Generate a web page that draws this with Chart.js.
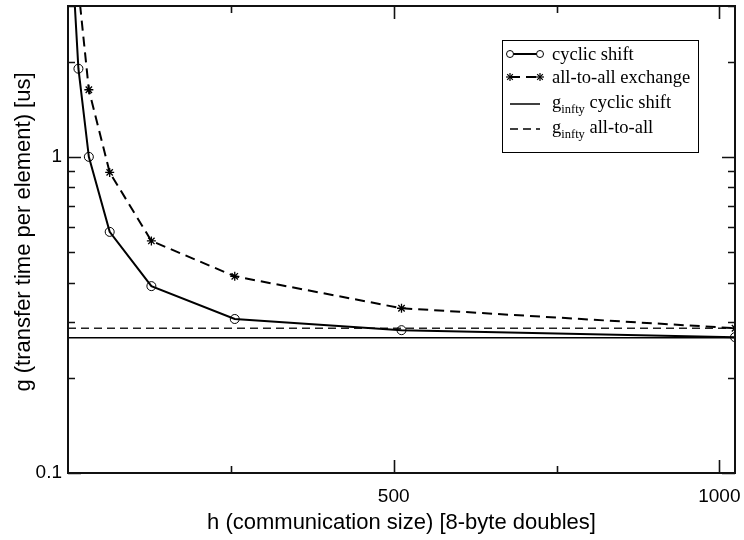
<!DOCTYPE html>
<html>
<head>
<meta charset="utf-8">
<script src="https://cdn.jsdelivr.net/npm/chart.js@4/dist/chart.umd.min.js"></script>
<style>
html,body{margin:0;padding:0;background:#fff;}
#c{display:block;}
</style>
</head>
<body>
<canvas id="c" width="744" height="540"></canvas>
<script>
// ---- data ----
const hValues = [8, 16, 32, 64, 128, 256, 512, 1024];
const cyclicShift = [3.7, 1.90, 1.00, 0.579, 0.390, 0.307, 0.283, 0.269];
const allToAllH = [16, 32, 64, 128, 256, 512, 1024];
const allToAll = [3.4, 1.63, 0.893, 0.542, 0.419, 0.332, 0.287];
const gInftyCyclic = 0.268;
const gInftyAllToAll = 0.287;
const xRange = [0, 1024];
const yRange = [0.1, 3];
const xTickValues = [250, 500, 750, 1000];
const xTickLabels = {500: '500', 1000: '1000'};
const yTickValues = [0.1, 0.2, 0.3, 0.4, 0.5, 0.6, 0.7, 0.8, 0.9, 1, 2, 3];
const yTickLabels = {0.1: '0.1', 1: '1'};
const xMajor = [500, 1000];
const yMajor = [0.1, 1];
const legendLabels = [
  {main: 'cyclic shift'},
  {main: 'all-to-all exchange'},
  {pre: 'g', sub: 'infty', main: ' cyclic shift'},
  {pre: 'g', sub: 'infty', main: ' all-to-all'}
];
const xTitle = 'h (communication size) [8-byte doubles]';
const yTitle = 'g (transfer time per element) [us]';

const toXY = (xs, ys) => xs.map((x, i) => ({x: x, y: ys[i]}));

const SERIF = '"Liberation Serif", "Times New Roman", serif';
const SANS = '"Liberation Sans", Arial, sans-serif';

const framePlugin = {
  id: 'frame',
  afterDraw(chart) {
    const ctx = chart.ctx;
    const a = chart.chartArea;
    const xs = chart.scales.x, ys = chart.scales.y;
    ctx.save();
    ctx.strokeStyle = '#111';
    ctx.lineWidth = 1.6;
    // ticks (inward, mirrored)
    xTickValues.forEach(v => {
      const px = Math.round(xs.getPixelForValue(v)) + 0.5;
      const len = xMajor.includes(v) ? 13 : 7;
      ctx.beginPath();
      ctx.moveTo(px, a.bottom); ctx.lineTo(px, a.bottom - len);
      ctx.moveTo(px, a.top); ctx.lineTo(px, a.top + len);
      ctx.stroke();
    });
    yTickValues.forEach(v => {
      const py = Math.round(ys.getPixelForValue(v)) + 0.5;
      const len = yMajor.includes(v) ? 13 : 7;
      ctx.beginPath();
      ctx.moveTo(a.left, py); ctx.lineTo(a.left + len, py);
      ctx.moveTo(a.right, py); ctx.lineTo(a.right - len, py);
      ctx.stroke();
    });
    ctx.lineWidth = 2;
    ctx.strokeRect(a.left, a.top, a.right - a.left, a.bottom - a.top);

    // y title
    ctx.fillStyle = '#000';
    ctx.font = '22px ' + SANS;
    ctx.textAlign = 'center';
    ctx.textBaseline = 'middle';
    ctx.save();
    ctx.translate(24, 232);
    ctx.rotate(-Math.PI / 2);
    ctx.fillText(yTitle, 0, 0);
    ctx.restore();

    // legend
    const lx = 502.5, ly = 40.5, lw = 196, lh = 112;
    ctx.lineWidth = 1;
    ctx.strokeStyle = '#000';
    ctx.fillStyle = '#fff';
    ctx.fillRect(lx, ly, lw, lh);
    ctx.strokeRect(lx, ly, lw, lh);
    const rows = [54, 77, 102, 127];
    const ds = chart.data.datasets;
    rows.forEach((ry, i) => {
      const d = ds[i];
      const y = ry + (i >= 2 ? 2 : 0);
      ctx.save();
      ctx.strokeStyle = '#000';
      ctx.lineWidth = d.borderWidth;
      ctx.setLineDash(d.borderDash || []);
      ctx.beginPath();
      ctx.moveTo(510, y); ctx.lineTo(540, y);
      ctx.stroke();
      ctx.setLineDash([]);
      if (d.pointRadius > 0) {
        [510, 540].forEach(px => {
          ctx.lineWidth = 1;
          if (d.pointStyle === 'circle') {
            ctx.fillStyle = '#fff';
            ctx.beginPath(); ctx.arc(px, y, 3.5, 0, Math.PI * 2); ctx.fill(); ctx.stroke();
          } else {
            ctx.lineWidth = 1.2;
            for (let k = 0; k < 4; k++) {
              const ang = k * Math.PI / 4;
              ctx.beginPath();
              ctx.moveTo(px - 4 * Math.cos(ang), y - 4 * Math.sin(ang));
              ctx.lineTo(px + 4 * Math.cos(ang), y + 4 * Math.sin(ang));
              ctx.stroke();
            }
          }
        });
      }
      ctx.restore();
      const L = legendLabels[i];
      ctx.fillStyle = '#000';
      ctx.textAlign = 'left';
      ctx.textBaseline = 'alphabetic';
      let tx = 552;
      const base = ry + 6;
      ctx.font = '18.5px ' + SERIF;
      if (L.pre) {
        ctx.fillText(L.pre, tx, base);
        tx += ctx.measureText(L.pre).width;
        ctx.font = '12.5px ' + SERIF;
        ctx.fillText(L.sub, tx, base + 5);
        tx += ctx.measureText(L.sub).width;
        ctx.font = '18.5px ' + SERIF;
      }
      ctx.fillText(L.main, tx, base);
    });
    ctx.restore();
  }
};

new Chart(document.getElementById('c'), {
  type: 'line',
  data: {
    datasets: [
      {
        label: 'cyclic shift',
        data: toXY(hValues, cyclicShift),
        borderColor: '#000', borderWidth: 2,
        pointStyle: 'circle', pointRadius: 4.5, pointBorderWidth: 1,
        pointBackgroundColor: 'rgba(255,255,255,0)', pointBorderColor: '#000',
        tension: 0
      },
      {
        label: 'all-to-all exchange',
        data: toXY(allToAllH, allToAll),
        borderColor: '#000', borderWidth: 2, borderDash: [10, 6],
        pointStyle: 'star', pointRadius: 4.5, pointBorderWidth: 1.3,
        pointBorderColor: '#000',
        tension: 0
      },
      {
        label: 'g_infty cyclic shift',
        data: toXY(xRange, [gInftyCyclic, gInftyCyclic]),
        borderColor: '#000', borderWidth: 1.5,
        pointRadius: 0, tension: 0
      },
      {
        label: 'g_infty all-to-all',
        data: toXY(xRange, [gInftyAllToAll, gInftyAllToAll]),
        borderColor: '#222', borderWidth: 1.5, borderDash: [8, 5],
        pointRadius: 0, tension: 0
      }
    ]
  },
  options: {
    responsive: false,
    animation: false,
    devicePixelRatio: 1,
    layout: {padding: {top: 6, right: 9, left: 0, bottom: 0}},
    plugins: {legend: {display: false}, tooltip: {enabled: false}},
    scales: {
      x: {
        type: 'linear', min: xRange[0], max: xRange[1],
        grid: {display: false, drawTicks: false},
        border: {display: false},
        afterBuildTicks: s => { s.ticks = xTickValues.map(v => ({value: v})); },
        afterFit: s => { s.height = 67; s.paddingLeft = 0; s.paddingRight = 0; },
        ticks: {
          autoSkip: false, maxRotation: 0, padding: 12,
          color: '#000', font: {family: SANS, size: 19},
          callback: v => xTickLabels[v] || ''
        },
        title: {
          display: true, text: xTitle, color: '#000',
          font: {family: SANS, size: 22},
          padding: {top: 0, bottom: 4}
        }
      },
      y: {
        type: 'logarithmic', min: yRange[0], max: yRange[1],
        grid: {display: false, drawTicks: false},
        border: {display: false},
        afterBuildTicks: s => { s.ticks = yTickValues.map(v => ({value: v})); },
        afterFit: s => { s.width = 68; s.paddingTop = 0; s.paddingBottom = 0; },
        ticks: {
          autoSkip: false, padding: 6,
          color: '#000', font: {family: SANS, size: 19},
          callback: v => yTickLabels[v] || ''
        }
      }
    }
  },
  plugins: [framePlugin]
});
</script>
</body>
</html>
